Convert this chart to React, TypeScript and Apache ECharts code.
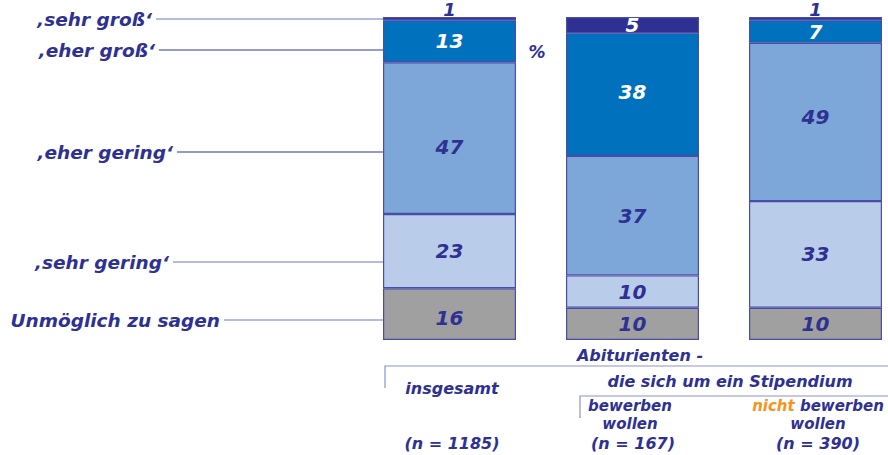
import React, { useEffect, useRef } from "react";
import * as echarts from "echarts";

const categories = ["insgesamt", "bewerben wollen", "nicht bewerben wollen"];
const seriesNames = ["Unmöglich zu sagen", "‚sehr gering‘", "‚eher gering‘", "‚eher groß‘", "‚sehr groß‘"];
const unmoeglich = [16, 10, 10];
const sehrGering = [23, 10, 33];
const eherGering = [47, 37, 49];
const eherGross = [13, 38, 7];
const sehrGross = [1, 5, 1];
const sampleSizes = ["(n = 1185)", "(n = 167)", "(n = 390)"];

const NAVY = "#2E3192";
const FONT = "DejaVu Sans";
const colors = ["#A0A0A0", "#B9CDEB", "#7DA7D9", "#0071BC", "#2E3192"];
// small vertical nudges of value labels (series index -> per category)
const labelNudge: Record<number, number[]> = {
  0: [4, 0, 0],
  2: [9, 0, -5],
  3: [0, -3, 0],
};

export default function App() {
  const ref = useRef<HTMLDivElement>(null);
  useEffect(() => {
    const chart = echarts.init(ref.current!, null, { renderer: "svg" });
    const valuesList = [unmoeglich, sehrGering, eherGering, eherGross, sehrGross];
    const numLabel = {
      show: true,
      position: "inside",
      color: NAVY,
      fontFamily: FONT,
      fontStyle: "italic",
      fontWeight: "bold",
      fontSize: 20,
    };
    const series = valuesList.map((vals, si) => ({
      type: "bar",
      name: seriesNames[si],
      stack: "total",
      barWidth: 133,
      itemStyle: { color: colors[si], borderColor: "#4A4DA8", borderWidth: 1.2 },
      data: vals.map((v, ci) => {
        let label: any = { ...numLabel };
        const dy = labelNudge[si] ? labelNudge[si][ci] : 0;
        if (dy) label.offset = [0, dy];
        if (si === 3) label.color = "#FFFFFF";
        if (si === 4) {
          if (v < 3) {
            label = { ...numLabel, position: "top", distance: -1, fontSize: 18 };
          } else {
            label = { ...numLabel, color: "#FFFFFF" };
          }
        }
        return { value: v, label };
      }),
    }));

    const leftLabels = [
      { text: seriesNames[4], right: 152, y: 19, lineColor: "#6D78BD" },
      { text: seriesNames[3], right: 155, y: 50, lineColor: "#2E3A96" },
      { text: seriesNames[2], right: 173, y: 152, lineColor: "#2E3A96" },
      { text: seriesNames[1], right: 169, y: 262, lineColor: "#6D78BD" },
      { text: seriesNames[0], right: 220, y: 320, lineColor: "#6D78BD" },
    ];
    const txt = (x: number, y: number, text: string, extra: any = {}) => ({
      type: "text",
      x,
      y,
      style: {
        text,
        fill: NAVY,
        font: `italic 600 16px "${FONT}"`,
        textAlign: "center",
        textVerticalAlign: "middle",
        ...extra,
      },
    });
    const graphic: any[] = [];
    leftLabels.forEach((l) => {
      graphic.push(
        txt(l.right, l.y, l.text, { textAlign: "right", font: `italic 600 18.5px "${FONT}"` })
      );
      graphic.push({
        type: "line",
        shape: { x1: l.right + 4, y1: l.y, x2: 383, y2: l.y },
        style: { stroke: l.lineColor, lineWidth: 1.2 },
      });
    });
    graphic.push(txt(537, 52, "%", { font: `italic bold 17px "${FONT}"` }));
    graphic.push(txt(640, 355, "Abiturienten -"));
    graphic.push({
      type: "polyline",
      shape: { points: [[385, 388], [385, 366], [888, 366]] },
      style: { stroke: "#8A93CC", lineWidth: 1.2, fill: null },
    });
    graphic.push(txt(452, 388, categories[0]));
    graphic.push(txt(730, 381, "die sich um ein Stipendium"));
    graphic.push({
      type: "polyline",
      shape: { points: [[580, 418], [580, 396], [888, 396]] },
      style: { stroke: "#8A93CC", lineWidth: 1.2, fill: null },
    });
    const small = { font: `italic 600 15px "${FONT}"` };
    graphic.push(txt(630, 406, "bewerben", small));
    graphic.push(txt(630, 424, "wollen", small));
    graphic.push({
      type: "text",
      x: 818,
      y: 406,
      style: {
        text: "{o|nicht} bewerben",
        fill: NAVY,
        font: `italic 600 15px "${FONT}"`,
        textAlign: "center",
        textVerticalAlign: "middle",
        rich: { o: { fill: "#F7941D", font: `italic 600 15px "${FONT}"` } },
      },
    });
    graphic.push(txt(818, 424, "wollen", small));
    graphic.push(txt(452, 443, sampleSizes[0]));
    graphic.push(txt(633, 443, sampleSizes[1]));
    graphic.push(txt(818, 443, sampleSizes[2]));

    chart.setOption({
      animation: false,
      grid: { left: 449.5, top: 17, right: 72.5, height: 323 },
      xAxis: { type: "category", data: categories, boundaryGap: false, show: false },
      yAxis: { type: "value", min: 0, max: 100, show: false },
      series,
      graphic,
    });
    return () => chart.dispose();
  }, []);
  return (
    <div
      ref={ref}
      style={{ position: "fixed", left: 0, top: 0, width: 888, height: 455, background: "#fff" }}
    />
  );
}
